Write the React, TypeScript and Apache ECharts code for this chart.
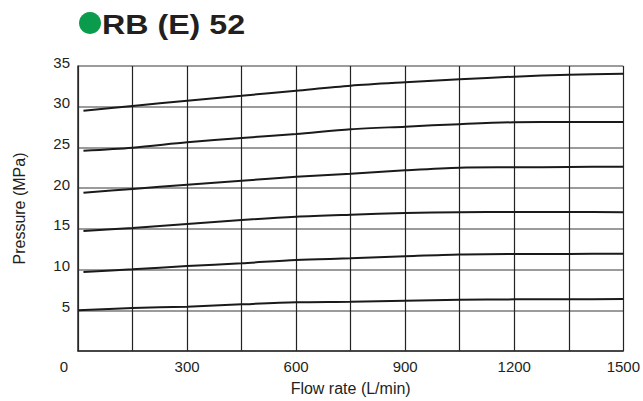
import React, { useEffect, useRef } from "react";
import * as echarts from "echarts";

const TITLE = "RB (E) 52";
const X_NAME = "Flow rate (L/min)";
const Y_NAME = "Pressure (MPa)";

// Flow rate sample points (L/min)
const flowUpper = [15, 150, 300, 450, 600, 750, 900, 1050, 1200, 1350, 1500];
const flowLowest = [0, 150, 300, 450, 600, 750, 900, 1050, 1200, 1350, 1500];

// Pressure curves (MPa)
const curve30 = [29.5, 30.1, 30.74, 31.35, 31.97, 32.58, 33.0, 33.37, 33.69, 33.93, 34.05];
const curve25 = [24.6, 24.97, 25.63, 26.16, 26.65, 27.23, 27.55, 27.86, 28.09, 28.12, 28.12];
const curve20 = [19.44, 19.9, 20.42, 20.91, 21.4, 21.77, 22.19, 22.51, 22.56, 22.6, 22.63];
const curve15 = [14.74, 15.1, 15.6, 16.09, 16.49, 16.74, 16.95, 17.05, 17.07, 17.07, 17.05];
const curve10 = [9.7, 10.03, 10.44, 10.77, 11.18, 11.38, 11.63, 11.85, 11.91, 11.92, 11.95];
const curve5 = [5.0, 5.28, 5.44, 5.73, 5.98, 6.05, 6.18, 6.3, 6.34, 6.35, 6.39];

const curves: { flow: number[]; values: number[] }[] = [
  { flow: flowUpper, values: curve30 },
  { flow: flowUpper, values: curve25 },
  { flow: flowUpper, values: curve20 },
  { flow: flowUpper, values: curve15 },
  { flow: flowUpper, values: curve10 },
  { flow: flowLowest, values: curve5 },
];

const xLabelStep = 300;

export default function App() {
  const ref = useRef<HTMLDivElement>(null);

  useEffect(() => {
    document.body.style.margin = "0";
    if (!ref.current) return;
    const chart = echarts.init(ref.current, undefined, { renderer: "svg" });
    const textColor = "#231f20";
    const font = "Liberation Sans, Arial, sans-serif";
    chart.setOption({
      animation: false,
      backgroundColor: "#ffffff",
      grid: { left: 78, right: 19, top: 66, bottom: 50, containLabel: false },
      xAxis: {
        type: "value",
        min: 0,
        max: 1500,
        interval: 150,
        name: X_NAME,
        nameLocation: "middle",
        nameGap: 29,
        nameTextStyle: { color: textColor, fontSize: 16, fontFamily: font },
        axisLine: { show: true, lineStyle: { color: "#2b2b2b", width: 1.5 } },
        axisTick: { show: false },
        axisLabel: {
          interval: 0,
          margin: 8,
          color: textColor,
          fontSize: 15,
          fontFamily: font,
          formatter: (v: number) => (v !== 0 && v % xLabelStep === 0 ? String(v) : ""),
        },
        splitLine: { show: true, lineStyle: { color: "#222222", width: 1.2 } },
      },
      yAxis: {
        type: "value",
        min: 0,
        max: 35,
        interval: 5,
        name: Y_NAME,
        nameLocation: "middle",
        nameGap: 51,
        nameTextStyle: { color: textColor, fontSize: 16, fontFamily: font },
        axisLine: { show: true, lineStyle: { color: "#2b2b2b", width: 1.5 } },
        axisTick: { show: false },
        axisLabel: {
          margin: 8,
          color: textColor,
          fontSize: 15,
          fontFamily: font,
          verticalAlign: "bottom",
          lineHeight: 8,
          formatter: (v: number) => (v === 0 ? "" : String(v)),
        },
        splitLine: { show: true, lineStyle: { color: "#7a7a7a", width: 1.6 } },
      },
      graphic: [
        {
          type: "circle",
          shape: { cx: 90, cy: 23, r: 11 },
          style: { fill: "#0b9b4c" },
        },
        {
          type: "text",
          x: 102,
          y: 24,
          scaleX: 1.15,
          style: {
            text: TITLE,
            fill: textColor,
            font: `bold 28px ${font}`,
            verticalAlign: "middle",
          },
        },
        {
          type: "text",
          x: 64,
          y: 366,
          style: {
            text: "0",
            fill: textColor,
            font: `15px ${font}`,
            align: "center",
            verticalAlign: "middle",
          },
        },
      ],
      series: curves.map((c) => ({
        type: "line",
        data: c.flow.map((f, i) => [f, c.values[i]]),
        showSymbol: false,
        smooth: 0.3,
        lineStyle: { color: "#1a1a1a", width: 2 },
        z: 5,
      })),
    });
    return () => chart.dispose();
  }, []);

  return <div ref={ref} style={{ width: 643, height: 401 }} />;
}
